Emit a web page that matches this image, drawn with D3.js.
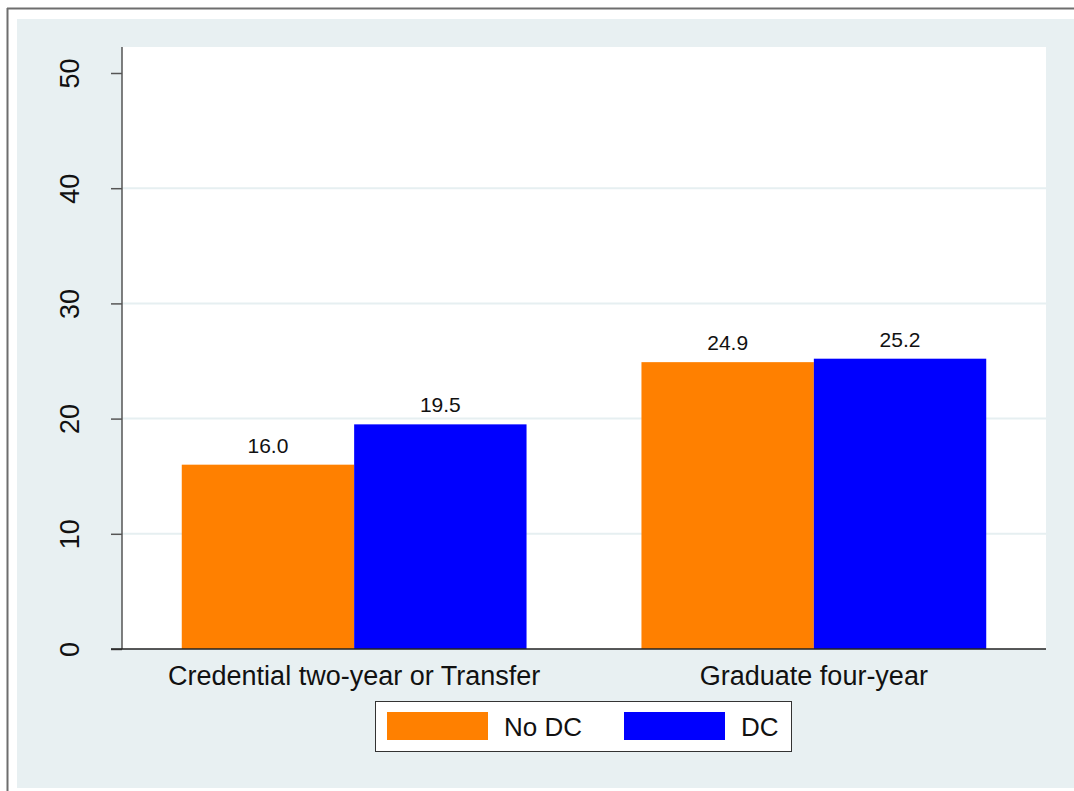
<!DOCTYPE html>
<html>
<head>
<meta charset="utf-8">
<script src="https://cdn.jsdelivr.net/npm/d3@7"></script>
<style>
html,body{margin:0;padding:0;background:#fff;}
svg{display:block;font-family:"Liberation Sans",Arial,Helvetica,sans-serif;}
</style>
</head>
<body>
<svg id="chart" width="1074" height="791"></svg>
<script>
const categories = ["Credential two-year or Transfer", "Graduate four-year"];
const seriesNames = ["No DC", "DC"];
const noDC = [16.0, 24.9];
const dc = [19.5, 25.2];
const yTicks = [0, 10, 20, 30, 40, 50];
const colors = ["#FF8000", "#0000FF"];

const svg = d3.select("#chart");
const W = 1074, H = 791;
const plot = {left: 122, right: 1046, top: 47, bottom: 649};

// outer frame
svg.append("rect").attr("x", 0).attr("y", 0).attr("width", W).attr("height", H).attr("fill", "#fff");
svg.append("rect").attr("x", 17).attr("y", 19).attr("width", W - 17).attr("height", 769).attr("fill", "#E8F0F2");
svg.append("line").attr("x1", 7).attr("x2", W).attr("y1", 8.5).attr("y2", 8.5).attr("stroke", "#6e6e6e").attr("stroke-width", 2);
svg.append("line").attr("x1", 7.5).attr("x2", 7.5).attr("y1", 8).attr("y2", H).attr("stroke", "#6e6e6e").attr("stroke-width", 2);

// plot region
svg.append("rect").attr("x", plot.left).attr("y", plot.top)
  .attr("width", plot.right - plot.left).attr("height", plot.bottom - plot.top).attr("fill", "#fff");

const y = d3.scaleLinear().domain([0, 50]).range([plot.bottom, 73]);
const x0 = d3.scaleBand().domain(categories).range([plot.left, plot.right]).paddingInner(0.25).paddingOuter(0.13);
const x1 = d3.scaleBand().domain(seriesNames).range([0, x0.bandwidth()]);

// gridlines
svg.append("g").selectAll("line").data(yTicks.filter(t => t > 0 && t < 50)).join("line")
  .attr("x1", plot.left).attr("x2", plot.right)
  .attr("y1", d => y(d)).attr("y2", d => y(d))
  .attr("stroke", "#E6EFF1").attr("stroke-width", 2);

// bars
const data = categories.map((c, i) => ({cat: c, vals: [{s: seriesNames[0], v: noDC[i]}, {s: seriesNames[1], v: dc[i]}]}));
const g = svg.append("g").selectAll("g").data(data).join("g")
  .attr("transform", d => `translate(${x0(d.cat)},0)`);
g.selectAll("rect").data(d => d.vals).join("rect")
  .attr("x", d => x1(d.s)).attr("width", x1.bandwidth())
  .attr("y", d => y(d.v)).attr("height", d => y(0) - y(d.v))
  .attr("fill", (d, i) => colors[i]);
g.selectAll("text").data(d => d.vals).join("text")
  .attr("x", d => x1(d.s) + x1.bandwidth() / 2)
  .attr("y", d => y(d.v) - 12)
  .attr("text-anchor", "middle").attr("font-size", 21).attr("fill", "#111")
  .text(d => d.v.toFixed(1));

// y axis
const yAxis = d3.axisLeft(y).tickValues(yTicks).tickSize(11).tickFormat(d3.format("d"));
const ya = svg.append("g").attr("transform", `translate(${plot.left},0)`).call(yAxis);
ya.select(".domain").remove();
ya.selectAll(".tick line").attr("stroke", "#555").attr("stroke-width", 1.5);
ya.selectAll(".tick text").remove();
ya.selectAll(".tick").append("text")
  .attr("transform", "translate(-43,0) rotate(-90)")
  .attr("text-anchor", "middle").attr("font-size", 27).attr("fill", "#111")
  .text(d => d);
svg.append("line").attr("x1", plot.left).attr("x2", plot.left).attr("y1", plot.top).attr("y2", plot.bottom)
  .attr("stroke", "#555").attr("stroke-width", 1.5);

// x baseline
svg.append("line").attr("x1", plot.left - 11).attr("x2", plot.right).attr("y1", plot.bottom).attr("y2", plot.bottom)
  .attr("stroke", "#222").attr("stroke-width", 1.5);

// category labels
svg.append("g").selectAll("text").data(categories).join("text")
  .attr("x", d => x0(d) + x0.bandwidth() / 2).attr("y", 685)
  .attr("text-anchor", "middle").attr("font-size", 27).attr("fill", "#111")
  .text(d => d);

// legend
const leg = svg.append("g");
leg.append("rect").attr("x", 375.5).attr("y", 701.5).attr("width", 416).attr("height", 50)
  .attr("fill", "#fff").attr("stroke", "#333").attr("stroke-width", 1);
const legX = [387, 624];
seriesNames.forEach((s, i) => {
  leg.append("rect").attr("x", legX[i]).attr("y", 712).attr("width", 101).attr("height", 28).attr("fill", colors[i]);
  leg.append("text").attr("x", legX[i] + 117).attr("y", 736).attr("font-size", 26).attr("fill", "#111").text(s);
});
</script>
</body>
</html>
